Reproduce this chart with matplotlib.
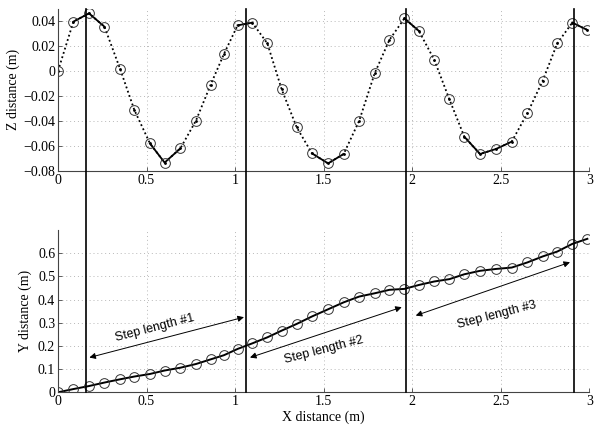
import matplotlib
matplotlib.use("Agg")
import matplotlib.pyplot as plt
from matplotlib.lines import Line2D
from matplotlib.transforms import blended_transform_factory
import numpy as np

# ---- data ----
x_pos = [0.0, 0.087, 0.175, 0.262, 0.350, 0.431, 0.519, 0.602, 0.691, 0.779,
         0.862, 0.937, 1.014, 1.097, 1.182, 1.263, 1.348, 1.434, 1.525, 1.613,
         1.701, 1.788, 1.871, 1.956, 2.038, 2.125, 2.210, 2.294, 2.383, 2.473,
         2.562, 2.650, 2.737, 2.819, 2.904, 2.989]
z_dist = [0.0, 0.0395, 0.0461, 0.0355, 0.0019, -0.0312, -0.0579, -0.0733, -0.0619, -0.0397,
          -0.0109, 0.0136, 0.0365, 0.0387, 0.0221, -0.0147, -0.0451, -0.0659, -0.0739, -0.0664,
          -0.0397, -0.0019, 0.0248, 0.0421, 0.0320, 0.0088, -0.0227, -0.0525, -0.0664, -0.0624,
          -0.0565, -0.0339, -0.0077, 0.0221, 0.0387, 0.0328]
y_dist = [0.0, 0.014, 0.027, 0.042, 0.056, 0.068, 0.079, 0.094, 0.106, 0.122,
          0.142, 0.160, 0.187, 0.211, 0.237, 0.266, 0.295, 0.327, 0.358, 0.388,
          0.413, 0.427, 0.442, 0.446, 0.463, 0.478, 0.488, 0.509, 0.524, 0.532,
          0.538, 0.560, 0.586, 0.607, 0.640, 0.662]
# index ranges (start, end) of solid segments in the Z curve
solid_ranges = [(1, 3), (6, 8), (12, 13), (17, 19), (23, 24), (27, 30), (34, 35)]
step_x = [0.157, 1.060, 1.966, 2.916]
step_labels = ["Step length #1", "Step length #2", "Step length #3"]
arrow_start = [(0.177, 0.150), (1.084, 0.150), (2.020, 0.331)]
arrow_end = [(1.050, 0.324), (1.941, 0.367), (2.891, 0.561)]
label_pos = [(0.548, 0.276), (1.502, 0.183), (2.477, 0.334)]

x_ticks = [0, 0.5, 1, 1.5, 2, 2.5, 3]
x_ticklabels = ["0", "0.5", "1", "1.5", "2", "2.5", "3"]
z_ticks = [-0.08, -0.06, -0.04, -0.02, 0, 0.02, 0.04]
z_ticklabels = ["\u22120.08", "\u22120.06", "\u22120.04", "\u22120.02", "0", "0.02", "0.04"]
y_ticks = [0, 0.1, 0.2, 0.3, 0.4, 0.5, 0.6]
y_ticklabels = ["0", "0.1", "0.2", "0.3", "0.4", "0.5", "0.6"]

serif = "Liberation Serif"
sans = "Liberation Sans"

fig = plt.figure(figsize=(6.0, 4.29), dpi=100)
ax1 = fig.add_axes([58 / 600, (429 - 171) / 429, 531.3 / 600, 162.5 / 429])
ax2 = fig.add_axes([58 / 600, (429 - 392.3) / 429, 531.3 / 600, 162.3 / 429])

for ax in (ax1, ax2):
    ax.set_xlim(0, 3)
    for s in ("top", "right"):
        ax.spines[s].set_visible(False)
    for s in ("left", "bottom"):
        ax.spines[s].set_color("#444444")
        ax.spines[s].set_linewidth(0.8)
    ax.tick_params(direction="in", length=3, width=0.6, color="#444444",
                   labelsize=10, pad=2)
    ax.set_xticks(x_ticks)
    ax.set_xticklabels(x_ticklabels, family=serif)
    ax.grid(True, color="#b8b8b8", linestyle=(0, (1, 3)), linewidth=0.7)
    ax.set_axisbelow(True)

# Top: Z distance
xa = np.array(x_pos)
za = np.array(z_dist)
ax1.plot(xa, za, color="black", linestyle=(0, (1, 1.5)), linewidth=1.3)
for a, b in solid_ranges:
    ax1.plot(xa[a:b + 1], za[a:b + 1], color="black", linewidth=1.3)
ax1.plot(xa, za, linestyle="none", marker="o", markersize=7, markerfacecolor="none",
         markeredgecolor="#333333", markeredgewidth=0.7)
ax1.plot(xa, za, linestyle="none", marker=".", markersize=2, color="black")
ax1.set_ylim(-0.08, 0.05)
ax1.set_yticks(z_ticks)
ax1.set_yticklabels(z_ticklabels, family=serif)
ax1.set_ylabel("Z distance (m)", family=serif, fontsize=10, labelpad=2)

# Bottom: Y distance
ax2.plot(x_pos, y_dist, color="black", linewidth=1.4)
ax2.plot(x_pos, y_dist, linestyle="none", marker="o", markersize=7, markerfacecolor="none",
         markeredgecolor="#333333", markeredgewidth=0.7)
ax2.set_ylim(0, 0.7)
ax2.set_yticks(y_ticks)
ax2.set_yticklabels(y_ticklabels, family=serif)
ax2.set_ylabel("Y distance (m)", family=serif, fontsize=10, labelpad=4)
ax2.set_xlabel("X distance (m)", family=serif, fontsize=10, labelpad=2)

# Step arrows and labels
for lab, s, e, p in zip(step_labels, arrow_start, arrow_end, label_pos):
    ax2.annotate("", xy=s, xytext=e,
                 arrowprops=dict(arrowstyle="<|-|>", color="black", lw=0.7,
                                 mutation_scale=9, shrinkA=0, shrinkB=0))
    ax2.text(p[0], p[1], lab, family=sans, fontsize=9, rotation=14.5,
             rotation_mode="anchor", ha="center", va="center")

# Vertical step lines spanning both axes
fig.canvas.draw()
y_bot = ax2.get_position().y0
y_top = ax1.get_position().y1
trans = blended_transform_factory(ax1.transData, fig.transFigure)
for sx in step_x:
    fig.add_artist(Line2D([sx, sx], [y_bot, y_top], transform=trans,
                          color="black", linewidth=1.2))

fig.savefig("out.png", dpi=100)
